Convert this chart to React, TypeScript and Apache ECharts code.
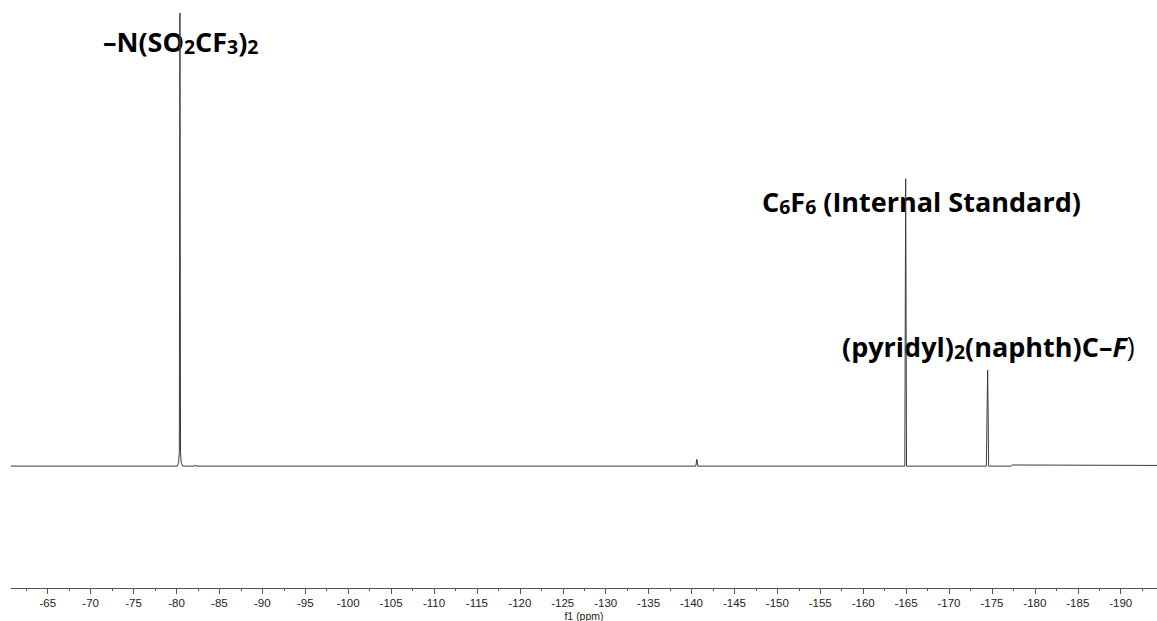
import React, { useEffect, useRef } from 'react';
import * as echarts from 'echarts';

// 19F NMR spectrum, chemical shift (ppm) vs. relative intensity
const spectrumPpm = [
  -60.72, -80.1, -80.25, -80.33, -80.4, -80.47, -80.55, -80.7, -82.1, -82.2, -82.3,
  -140.5, -140.62, -140.75, -164.85, -164.95, -165.05, -174.35, -174.5, -174.62,
  -177.2, -177.4, -194.23,
];
const spectrumIntensity = [
  0, 0, 0.8, 3, 100, 3, 0.8, 0, 0, 0.25, 0,
  0, 1.5, 0, 0, 63.4, 0, 0, 21.2, 0,
  0, 0.25, 0.15,
];

const majorTicks = [
  -65, -70, -75, -80, -85, -90, -95, -100, -105, -110, -115, -120, -125, -130,
  -135, -140, -145, -150, -155, -160, -165, -170, -175, -180, -185, -190,
];
const minorTicks = [
  -62.5, -67.5, -72.5, -77.5, -82.5, -87.5, -92.5, -97.5, -102.5, -107.5, -112.5,
  -117.5, -122.5, -127.5, -132.5, -137.5, -142.5, -147.5, -152.5, -157.5, -162.5,
  -167.5, -172.5, -177.5, -182.5, -187.5, -192.5,
];

const xMin = -194.23;
const xMax = -60.72;
const axisName = 'f1 (ppm)';

const FONT = "'Open Sans', 'Noto Sans', sans-serif";
const AXIS_FONT = "'Liberation Sans', Arial, sans-serif";

function richStyles(size: number) {
  const sub = size * 0.72;
  const lh = size * 1.11;
  return {
    b: { fontFamily: FONT, fontWeight: 'bold', fontSize: size, fill: '#000', lineHeight: lh },
    s: { fontFamily: FONT, fontWeight: 'bold', fontSize: sub, fill: '#000', verticalAlign: 'bottom' },
    i: { fontFamily: FONT, fontWeight: 'bold', fontStyle: 'italic', fontSize: size, fill: '#000', lineHeight: lh },
    n: { fontFamily: FONT, fontWeight: 'normal', fontSize: size, fill: '#000', lineHeight: lh },
  };
}

export default function App() {
  const ref = useRef<HTMLDivElement>(null);

  useEffect(() => {
    if (!ref.current) return;
    const chart = echarts.init(ref.current, undefined, { renderer: 'svg' });
    const data = spectrumPpm.map((p, i) => [p, spectrumIntensity[i]]);
    const size = 27;
    chart.setOption({
      animation: false,
      grid: { left: 11, right: 0, top: 13, bottom: 33, containLabel: false, outerBoundsMode: 'none' },
      xAxis: [
        {
          type: 'value',
          inverse: true,
          min: xMin,
          max: xMax,
          position: 'bottom',
          name: axisName,
          nameLocation: 'middle',
          nameGap: 22,
          nameMoveOverlap: false,
          nameTextStyle: { fontFamily: AXIS_FONT, fontSize: 10.5, color: '#222', verticalAlign: 'top' },
          axisLine: { show: true, onZero: false, lineStyle: { color: '#555', width: 1 } },
          axisTick: { show: true, customValues: majorTicks, length: 6, lineStyle: { color: '#555' } },
          axisLabel: {
            show: true,
            customValues: majorTicks,
            margin: 9,
            fontFamily: AXIS_FONT,
            fontSize: 11.5,
            color: '#222',
          },
          splitLine: { show: false },
        },
        {
          type: 'value',
          inverse: true,
          min: xMin,
          max: xMax,
          position: 'bottom',
          offset: 0,
          axisLine: { show: false, onZero: false },
          axisTick: { show: true, customValues: minorTicks, length: 3, lineStyle: { color: '#555' } },
          axisLabel: { show: false },
          splitLine: { show: false },
        },
      ],
      yAxis: {
        type: 'value',
        min: -26.9,
        max: 100,
        show: false,
        splitLine: { show: false },
      },
      series: [
        {
          type: 'line',
          xAxisIndex: 0,
          data,
          symbol: 'none',
          lineStyle: { color: '#3a3a3a', width: 1 },
          silent: true,
        },
      ],
      graphic: [
        {
          type: 'text',
          x: 103,
          y: 41,
          style: {
            text: '{b|–N(SO}{s|2}{b|CF}{s|3}{b|)}{s|2}',
            rich: richStyles(size),
            verticalAlign: 'middle',
          },
        },
        {
          type: 'text',
          x: 762,
          y: 201,
          style: {
            text: '{b|C}{s|6}{b|F}{s|6}{b| (Internal Standard)}',
            rich: richStyles(size),
            verticalAlign: 'middle',
          },
        },
        {
          type: 'text',
          x: 842,
          y: 346,
          style: {
            text: '{b|(pyridyl)}{s|2}{b|(naphth)C–}{i|F}{n|)}',
            rich: richStyles(size),
            verticalAlign: 'middle',
          },
        },
      ],
    });
    return () => chart.dispose();
  }, []);

  return <div ref={ref} style={{ width: 1157, height: 621, position: 'absolute', left: 0, top: 0 }} />;
}
